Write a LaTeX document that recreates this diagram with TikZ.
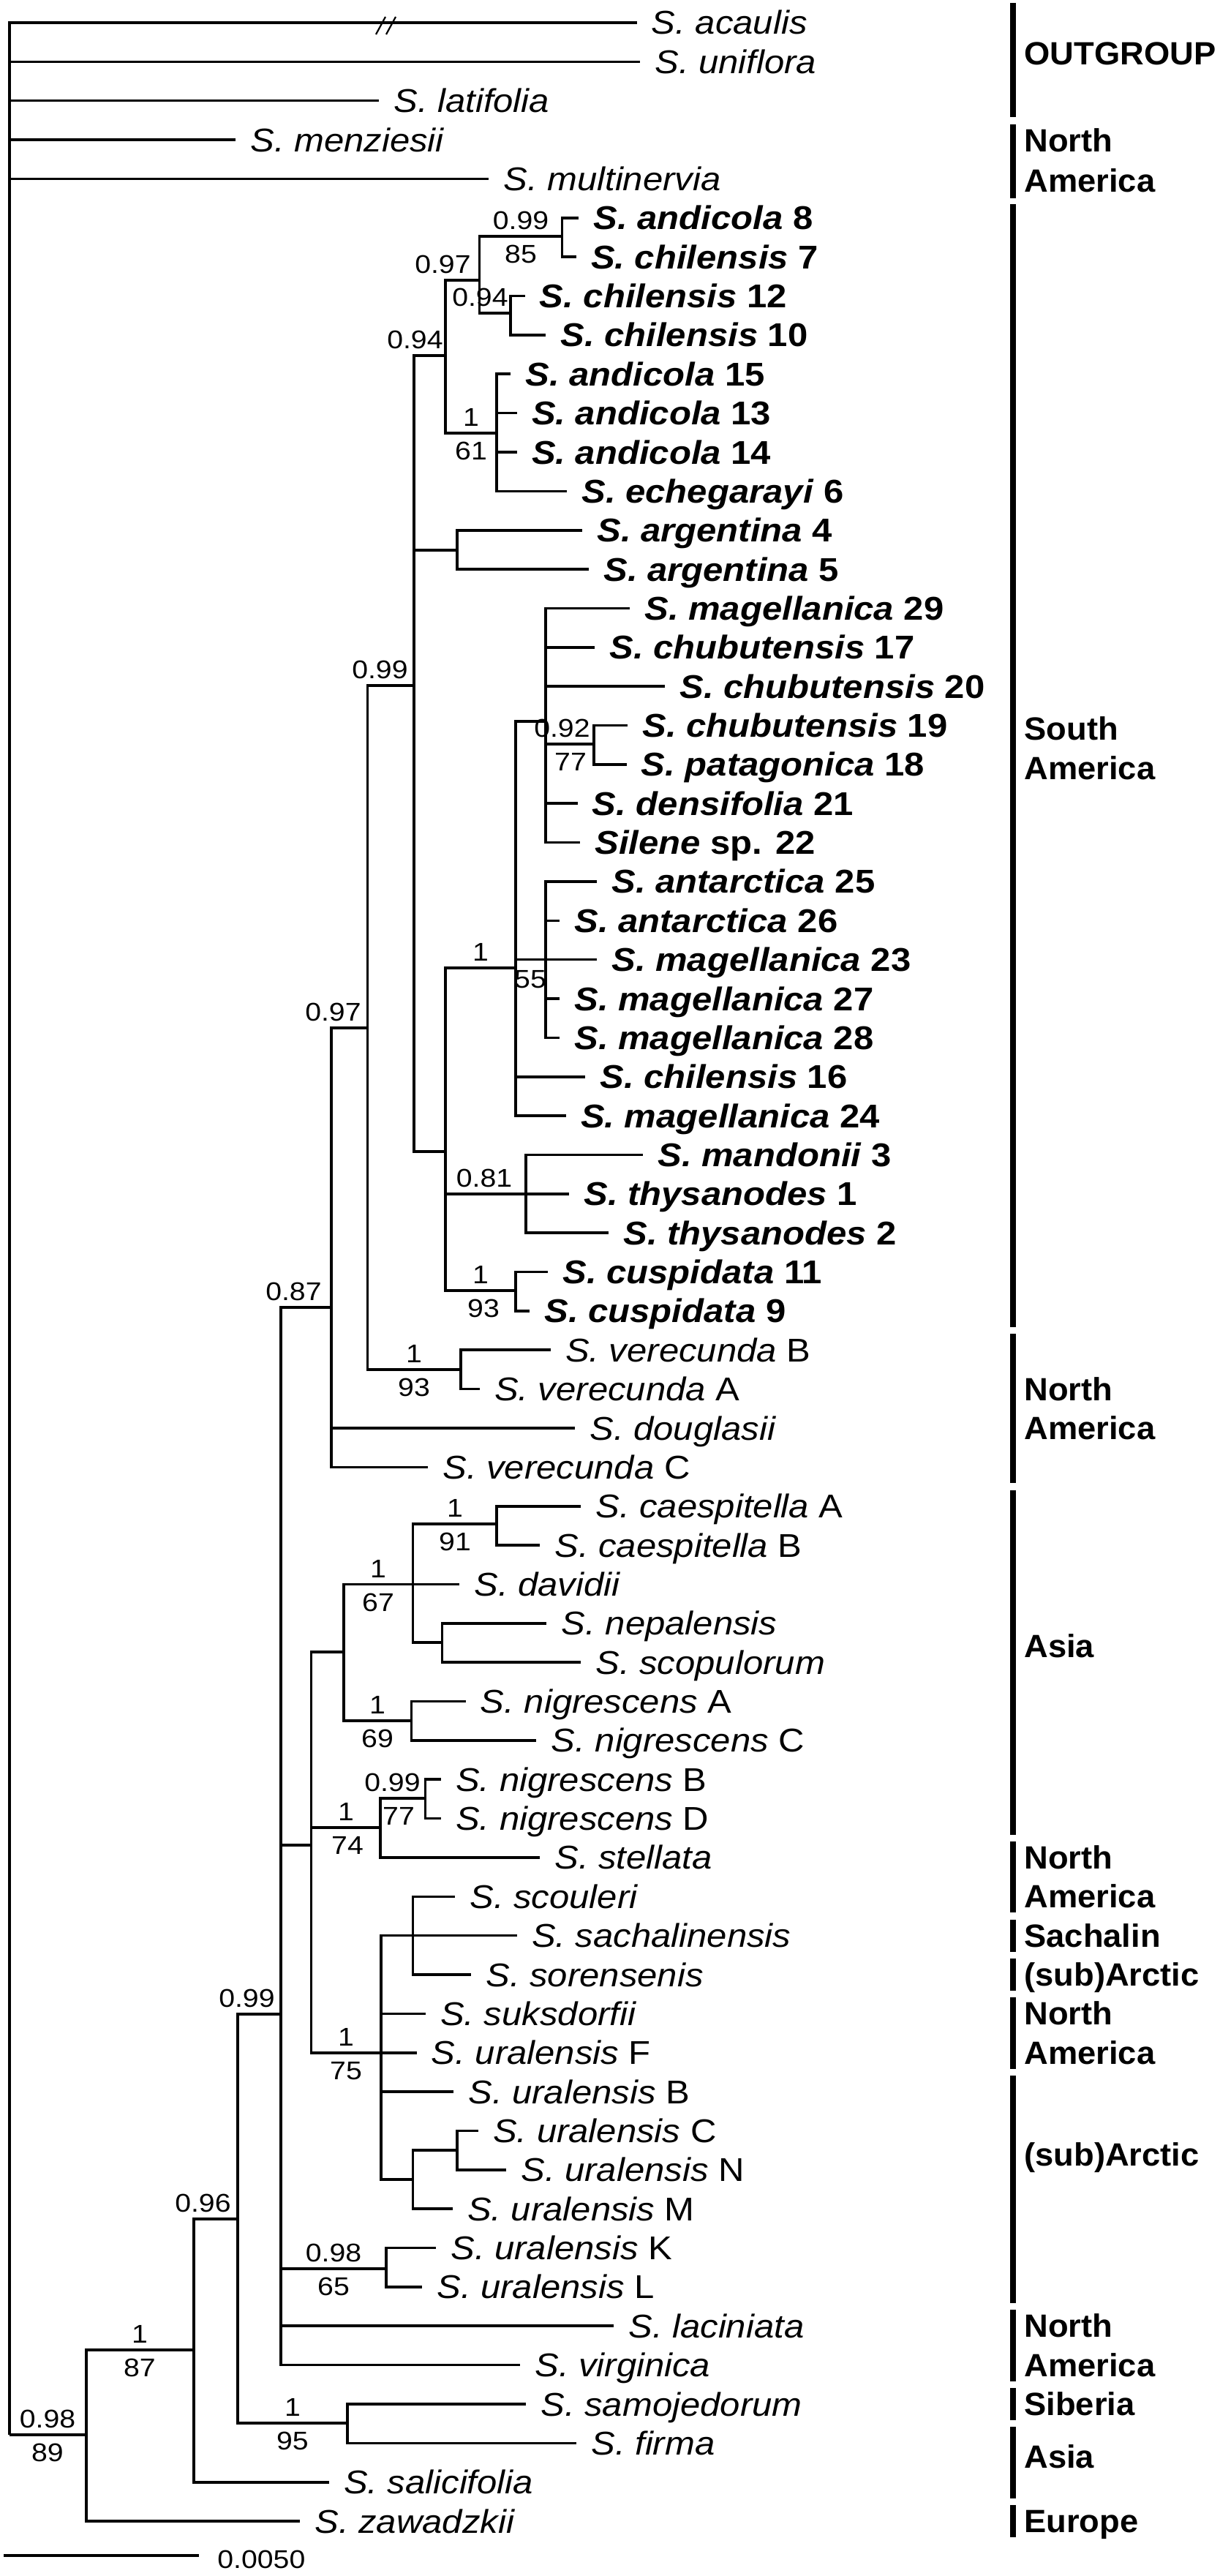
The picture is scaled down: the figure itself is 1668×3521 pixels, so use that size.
\documentclass[tikz,border=0pt]{standalone}
\usepackage{fontspec}
\setmainfont{Liberation Sans}
\usepackage{tikz}

\tikzset{
    branch/.style={line width=1.8pt},
    regionbar/.style={line width=4pt},
    taxon/.style={anchor=base west, inner sep=0pt, xshift=10pt, yshift=-8pt, xscale=1.09,
        font=\fontsize{22.5}{27}\selectfont},
    samer/.style={taxon, font=\fontsize{22.5}{27}\selectfont\bfseries},
    num/.style={inner sep=0pt, xscale=1.12, font=\fontsize{17.5}{21}\selectfont},
    pp/.style={num, anchor=south, yshift=4.5pt},
    bs/.style={num, anchor=north, yshift=-6pt},
    ppr/.style={num, anchor=south east, yshift=4.5pt},
    region/.style={anchor=base west, inner sep=0pt, yshift=-7.75pt, xscale=1.03,
        font=\fontsize{22}{26}\selectfont\bfseries}
}

\begin{document}
\begin{tikzpicture}[x=0.5pt, y=-0.5pt]
    \useasboundingbox (0,0) rectangle (1668,3521);

    % tips
    \coordinate (t1) at (870.5,31.0);
    \coordinate (t2) at (875,84.4);
    \coordinate (t3) at (518,137.7);
    \coordinate (t4) at (322,191.1);
    \coordinate (t5) at (668,244.4);
    \coordinate (t6) at (791,297.8);
    \coordinate (t7) at (787.6,351.2);
    \coordinate (t8) at (717.5,404.5);
    \coordinate (t9) at (746,457.9);
    \coordinate (t10) at (698,511.2);
    \coordinate (t11) at (706.6,564.6);
    \coordinate (t12) at (706.6,618.0);
    \coordinate (t13) at (775,671.3);
    \coordinate (t14) at (796,724.7);
    \coordinate (t15) at (805,778.0);
    \coordinate (t16) at (861,831.4);
    \coordinate (t17) at (813,884.8);
    \coordinate (t18) at (909,938.1);
    \coordinate (t19) at (858,991.5);
    \coordinate (t20) at (856.5,1044.8);
    \coordinate (t21) at (789.5,1098.2);
    \coordinate (t22) at (793,1151.6);
    \coordinate (t23) at (816,1204.9);
    \coordinate (t24) at (765,1258.3);
    \coordinate (t25) at (816,1311.6);
    \coordinate (t26) at (765,1365.0);
    \coordinate (t27) at (765,1418.4);
    \coordinate (t28) at (800,1471.7);
    \coordinate (t29) at (773.6,1525.1);
    \coordinate (t30) at (879,1578.4);
    \coordinate (t31) at (778,1631.8);
    \coordinate (t32) at (832,1685.2);
    \coordinate (t33) at (749,1738.5);
    \coordinate (t34) at (724,1791.9);
    \coordinate (t35) at (752.6,1845.2);
    \coordinate (t36) at (655.6,1898.6);
    \coordinate (t37) at (786,1952.0);
    \coordinate (t38) at (585,2005.3);
    \coordinate (t39) at (794,2058.7);
    \coordinate (t40) at (738,2112.0);
    \coordinate (t41) at (628,2165.4);
    \coordinate (t42) at (747.4,2218.8);
    \coordinate (t43) at (794,2272.1);
    \coordinate (t44) at (636.5,2325.5);
    \coordinate (t45) at (733.4,2378.8);
    \coordinate (t46) at (602.7,2432.2);
    \coordinate (t47) at (602.7,2485.6);
    \coordinate (t48) at (738,2538.9);
    \coordinate (t49) at (622,2592.3);
    \coordinate (t50) at (706.6,2645.6);
    \coordinate (t51) at (644,2699.0);
    \coordinate (t52) at (581.6,2752.4);
    \coordinate (t53) at (569.5,2805.7);
    \coordinate (t54) at (620,2859.1);
    \coordinate (t55) at (653.7,2912.4);
    \coordinate (t56) at (692,2965.8);
    \coordinate (t57) at (618.6,3019.2);
    \coordinate (t58) at (596,3072.5);
    \coordinate (t59) at (577,3125.9);
    \coordinate (t60) at (839,3179.2);
    \coordinate (t61) at (711,3232.6);
    \coordinate (t62) at (719,3286.0);
    \coordinate (t63) at (788,3339.3);
    \coordinate (t64) at (449.6,3392.7);
    \coordinate (t65) at (410,3446.0);

    % internal nodes
    \coordinate (root) at (12.8,3328);
    \coordinate (nA) at (118,3328);
    \coordinate (nB) at (264.7,3212);
    \coordinate (nC) at (325,3033);
    \coordinate (nSib) at (475,3312);
    \coordinate (nE) at (384,2753);
    \coordinate (nKL) at (528,3101);
    \coordinate (nF) at (453,1787);
    \coordinate (nG) at (502.5,1405);
    \coordinate (nVer) at (630,1872);
    \coordinate (nH) at (565.7,937);
    \coordinate (n94) at (609,486);
    \coordinate (n97) at (655.6,383);
    \coordinate (n99) at (768.5,323);
    \coordinate (nC12) at (698,428);
    \coordinate (n61) at (679,592);
    \coordinate (nArg) at (625,752);
    \coordinate (nSA) at (609,1574);
    \coordinate (n55) at (704.7,1323);
    \coordinate (nPoly) at (746,986);
    \coordinate (n92) at (812,1017);
    \coordinate (nAnt) at (746,1311.6);
    \coordinate (n81) at (719,1631.8);
    \coordinate (nCus) at (704.7,1764);
    \coordinate (nAs) at (425.4,2522);
    \coordinate (nAs2) at (470,2258);
    \coordinate (n67) at (564.4,2165.4);
    \coordinate (nCae) at (679,2083);
    \coordinate (nNep) at (604.6,2245);
    \coordinate (n69) at (562.5,2352);
    \coordinate (n74) at (520,2498);
    \coordinate (n77) at (581.6,2458);
    \coordinate (n75) at (521,2805.7);
    \coordinate (nSco) at (564.4,2645.6);
    \coordinate (nCNM) at (564.4,2979);
    \coordinate (nCN) at (625,2939);

    % support values
    \node[pp] (pA) at (65,3328) {0.98};
    \node[bs] (bA) at (65,3328) {89};
    \node[pp] (pB) at (191,3212) {1};
    \node[bs] (bB) at (191,3212) {87};
    \node[ppr] (pC) at (316,3033) {0.96};
    \node[pp] (pSib) at (400,3312) {1};
    \node[bs] (bSib) at (400,3312) {95};
    \node[ppr] (pE) at (376,2753) {0.99};
    \node[pp] (pKL) at (456,3101) {0.98};
    \node[bs] (bKL) at (456,3101) {65};
    \node[ppr] (pF) at (440,1787) {0.87};
    \node[ppr] (pG) at (494,1405) {0.97};
    \node[pp] (pVer) at (566,1872) {1};
    \node[bs] (bVer) at (566,1872) {93};
    \node[ppr] (pH) at (558,937) {0.99};
    \node[ppr] (p94) at (606,486) {0.94};
    \node[ppr] (p97) at (644,383) {0.97};
    \node[pp] (p99) at (712,323) {0.99};
    \node[bs] (b99) at (712,323) {85};
    \node[ppr] (pC12) at (695,428) {0.94};
    \node[pp] (p61) at (644,592) {1};
    \node[bs] (b61) at (644,592) {61};
    \node[pp] (p55) at (657,1323) {1};
    \node[bs] (b55) at (725,1314) {55};
    \node[ppr] (p92) at (807,1017) {0.92};
    \node[bs] (b92) at (780,1017) {77};
    \node[pp] (p81) at (662,1631.8) {0.81};
    \node[pp] (pCus) at (657,1764) {1};
    \node[bs] (bCus) at (661,1764) {93};
    \node[pp] (pCae) at (622,2083) {1};
    \node[bs] (bCae) at (622,2083) {91};
    \node[pp] (p67) at (517,2165.4) {1};
    \node[bs] (b67) at (517,2165.4) {67};
    \node[pp] (p69) at (516,2352) {1};
    \node[bs] (b69) at (516,2352) {69};
    \node[pp] (p74) at (473,2498) {1};
    \node[bs] (b74) at (475,2498) {74};
    \node[ppr] (p77) at (575,2458) {0.99};
    \node[bs] (b77) at (545,2458) {77};
    \node[pp] (p75) at (473,2805.7) {1};
    \node[bs] (b75) at (473,2805.7) {75};

    % branches
    \draw[branch] (root) |- (t1) (root) |- (t2) (root) |- (t3) (root) |- (t4)
        (root) |- (t5) (root) |- (nA);
    \draw[branch] (nA) |- (nB) (nA) |- (t65);
    \draw[branch] (nB) |- (nC) (nB) |- (t64);
    \draw[branch] (nC) |- (nE) (nC) |- (nSib);
    \draw[branch] (nSib) |- (t62) (nSib) |- (t63);
    \draw[branch] (nE) |- (nF) (nE) |- (nAs) (nE) |- (nKL) (nE) |- (t60) (nE) |- (t61);
    \draw[branch] (nKL) |- (t58) (nKL) |- (t59);
    \draw[branch] (nF) |- (nG) (nF) |- (t37) (nF) |- (t38);
    \draw[branch] (nG) |- (nH) (nG) |- (nVer);
    \draw[branch] (nVer) |- (t35) (nVer) |- (t36);
    \draw[branch] (nH) |- (n94) (nH) |- (nArg) (nH) |- (nSA);
    \draw[branch] (n94) |- (n97) (n94) |- (n61);
    \draw[branch] (n97) |- (n99) (n97) |- (nC12);
    \draw[branch] (n99) |- (t6) (n99) |- (t7);
    \draw[branch] (nC12) |- (t8) (nC12) |- (t9);
    \draw[branch] (n61) |- (t10) (n61) |- (t11) (n61) |- (t12) (n61) |- (t13);
    \draw[branch] (nArg) |- (t14) (nArg) |- (t15);
    \draw[branch] (nSA) |- (n55) (nSA) |- (n81) (nSA) |- (nCus);
    \draw[branch] (n55) |- (nPoly) (n55) |- (nAnt) (n55) |- (t28) (n55) |- (t29);
    \draw[branch] (nPoly) |- (t16) (nPoly) |- (t17) (nPoly) |- (t18) (nPoly) |- (n92)
        (nPoly) |- (t21) (nPoly) |- (t22);
    \draw[branch] (n92) |- (t19) (n92) |- (t20);
    \draw[branch] (nAnt) |- (t23) (nAnt) |- (t24) (nAnt) |- (t25) (nAnt) |- (t26)
        (nAnt) |- (t27);
    \draw[branch] (n81) |- (t30) (n81) |- (t31) (n81) |- (t32);
    \draw[branch] (nCus) |- (t33) (nCus) |- (t34);
    \draw[branch] (nAs) |- (nAs2) (nAs) |- (n74) (nAs) |- (n75);
    \draw[branch] (nAs2) |- (n67) (nAs2) |- (n69);
    \draw[branch] (n67) |- (nCae) (n67) |- (t41) (n67) |- (nNep);
    \draw[branch] (nCae) |- (t39) (nCae) |- (t40);
    \draw[branch] (nNep) |- (t42) (nNep) |- (t43);
    \draw[branch] (n69) |- (t44) (n69) |- (t45);
    \draw[branch] (n74) |- (n77) (n74) |- (t48);
    \draw[branch] (n77) |- (t46) (n77) |- (t47);
    \draw[branch] (n75) |- (nSco) (n75) |- (t52) (n75) |- (t53) (n75) |- (t54)
        (n75) |- (nCNM);
    \draw[branch] (nSco) |- (t49) (nSco) |- (t50) (nSco) |- (t51);
    \draw[branch] (nCNM) |- (nCN) (nCNM) |- (t57);
    \draw[branch] (nCN) |- (t55) (nCN) |- (t56);

    % break on the long outgroup branch
    \draw[line width=1.1pt] (514,47) -- (527,23) (528,47) -- (541,23);

    % taxa
    \node[taxon] (l1) at (t1) {\textit{S. acaulis}};
    \node[taxon] (l2) at (t2) {\textit{S. uniflora}};
    \node[taxon] (l3) at (t3) {\textit{S. latifolia}};
    \node[taxon] (l4) at (t4) {\textit{S. menziesii}};
    \node[taxon] (l5) at (t5) {\textit{S. multinervia}};
    \node[samer] (l6) at (t6) {\textit{S. andicola} 8};
    \node[samer] (l7) at (t7) {\textit{S. chilensis} 7};
    \node[samer] (l8) at (t8) {\textit{S. chilensis} 12};
    \node[samer] (l9) at (t9) {\textit{S. chilensis} 10};
    \node[samer] (l10) at (t10) {\textit{S. andicola} 15};
    \node[samer] (l11) at (t11) {\textit{S. andicola} 13};
    \node[samer] (l12) at (t12) {\textit{S. andicola} 14};
    \node[samer] (l13) at (t13) {\textit{S. echegarayi} 6};
    \node[samer] (l14) at (t14) {\textit{S. argentina} 4};
    \node[samer] (l15) at (t15) {\textit{S. argentina} 5};
    \node[samer] (l16) at (t16) {\textit{S. magellanica} 29};
    \node[samer] (l17) at (t17) {\textit{S. chubutensis} 17};
    \node[samer] (l18) at (t18) {\textit{S. chubutensis} 20};
    \node[samer] (l19) at (t19) {\textit{S. chubutensis} 19};
    \node[samer] (l20) at (t20) {\textit{S. patagonica} 18};
    \node[samer] (l21) at (t21) {\textit{S. densifolia} 21};
    \node[samer] (l22) at (t22) {\textit{Silene} sp. 22};
    \node[samer] (l23) at (t23) {\textit{S. antarctica} 25};
    \node[samer] (l24) at (t24) {\textit{S. antarctica} 26};
    \node[samer] (l25) at (t25) {\textit{S. magellanica} 23};
    \node[samer] (l26) at (t26) {\textit{S. magellanica} 27};
    \node[samer] (l27) at (t27) {\textit{S. magellanica} 28};
    \node[samer] (l28) at (t28) {\textit{S. chilensis} 16};
    \node[samer] (l29) at (t29) {\textit{S. magellanica} 24};
    \node[samer] (l30) at (t30) {\textit{S. mandonii} 3};
    \node[samer] (l31) at (t31) {\textit{S. thysanodes} 1};
    \node[samer] (l32) at (t32) {\textit{S. thysanodes} 2};
    \node[samer] (l33) at (t33) {\textit{S. cuspidata} 11};
    \node[samer] (l34) at (t34) {\textit{S. cuspidata} 9};
    \node[taxon] (l35) at (t35) {\textit{S. verecunda} B};
    \node[taxon] (l36) at (t36) {\textit{S. verecunda} A};
    \node[taxon] (l37) at (t37) {\textit{S. douglasii}};
    \node[taxon] (l38) at (t38) {\textit{S. verecunda} C};
    \node[taxon] (l39) at (t39) {\textit{S. caespitella} A};
    \node[taxon] (l40) at (t40) {\textit{S. caespitella} B};
    \node[taxon] (l41) at (t41) {\textit{S. davidii}};
    \node[taxon] (l42) at (t42) {\textit{S. nepalensis}};
    \node[taxon] (l43) at (t43) {\textit{S. scopulorum}};
    \node[taxon] (l44) at (t44) {\textit{S. nigrescens} A};
    \node[taxon] (l45) at (t45) {\textit{S. nigrescens} C};
    \node[taxon] (l46) at (t46) {\textit{S. nigrescens} B};
    \node[taxon] (l47) at (t47) {\textit{S. nigrescens} D};
    \node[taxon] (l48) at (t48) {\textit{S. stellata}};
    \node[taxon] (l49) at (t49) {\textit{S. scouleri}};
    \node[taxon] (l50) at (t50) {\textit{S. sachalinensis}};
    \node[taxon] (l51) at (t51) {\textit{S. sorensenis}};
    \node[taxon] (l52) at (t52) {\textit{S. suksdorfii}};
    \node[taxon] (l53) at (t53) {\textit{S. uralensis} F};
    \node[taxon] (l54) at (t54) {\textit{S. uralensis} B};
    \node[taxon] (l55) at (t55) {\textit{S. uralensis} C};
    \node[taxon] (l56) at (t56) {\textit{S. uralensis} N};
    \node[taxon] (l57) at (t57) {\textit{S. uralensis} M};
    \node[taxon] (l58) at (t58) {\textit{S. uralensis} K};
    \node[taxon] (l59) at (t59) {\textit{S. uralensis} L};
    \node[taxon] (l60) at (t60) {\textit{S. laciniata}};
    \node[taxon] (l61) at (t61) {\textit{S. virginica}};
    \node[taxon] (l62) at (t62) {\textit{S. samojedorum}};
    \node[taxon] (l63) at (t63) {\textit{S. firma}};
    \node[taxon] (l64) at (t64) {\textit{S. salicifolia}};
    \node[taxon] (l65) at (t65) {\textit{S. zawadzkii}};

    % scale bar
    \coordinate (sb0) at (5,3493);
    \coordinate (sb1) at (272,3493);
    \draw[branch] (sb0) -- (sb1);
    \node[num, anchor=base west] (sbl) at (297,3510) {0.0050};

    % regions
    \foreach \a/\b [count=\k] in {4/160, 170/271, 279/1814, 1823/2027, 2037/2508,
        2517/2614, 2624/2668, 2677/2721, 2730/2828, 2837/3148, 3157/3255,
        3264/3308, 3317/3415, 3424/3468} {
        \coordinate (b\k a) at (1385,\a);
        \coordinate (b\k b) at (1385,\b);
        \draw[regionbar] (b\k a) -- (b\k b);
    }
    \node[region] (g1) at (1400,73) {OUTGROUP};
    \node[region] (g2) at (1400,192) {North};
    \node[region] (g2b) at (1400,247) {America};
    \node[region] (g3) at (1400,996) {South};
    \node[region] (g3b) at (1400,1050) {America};
    \node[region] (g4) at (1400,1898.6) {North};
    \node[region] (g4b) at (1400,1952) {America};
    \node[region] (g5) at (1400,2250) {Asia};
    \node[region] (g6) at (1400,2539) {North};
    \node[region] (g6b) at (1400,2592) {America};
    \node[region] (g7) at (1400,2646) {Sachalin};
    \node[region] (g8) at (1400,2699) {(sub)Arctic};
    \node[region] (g9) at (1400,2752) {North};
    \node[region] (g9b) at (1400,2806) {America};
    \node[region] (g10) at (1400,2945) {(sub)Arctic};
    \node[region] (g11) at (1400,3179) {North};
    \node[region] (g11b) at (1400,3233) {America};
    \node[region] (g12) at (1400,3286) {Siberia};
    \node[region] (g13) at (1400,3358) {Asia};
    \node[region] (g14) at (1400,3446) {Europe};

\end{tikzpicture}
\end{document}
